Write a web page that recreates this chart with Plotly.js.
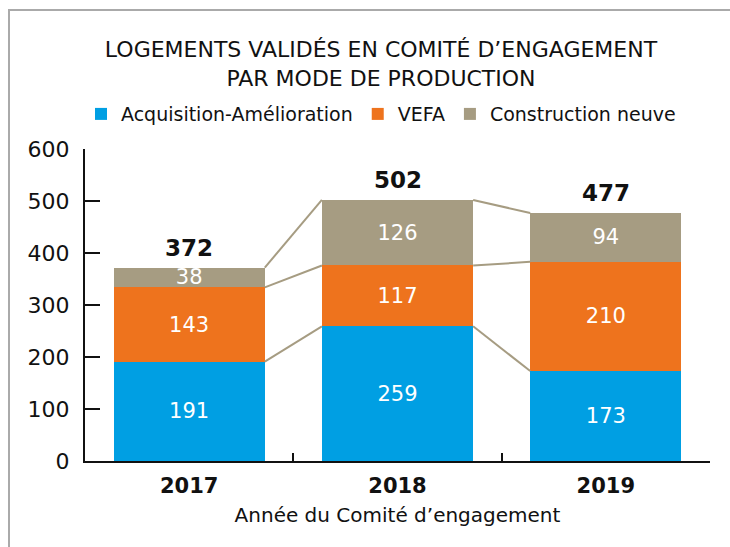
<!DOCTYPE html>
<html>
<head>
<meta charset="utf-8">
<script src="https://cdn.plot.ly/plotly-3.0.1.min.js"></script>
<style>
  html, body { margin: 0; padding: 0; background: #fff; }
  #wrap { position: relative; width: 730px; height: 547px; overflow: hidden; }
  #chart { position: absolute; left: 0; top: 0; width: 730px; height: 547px; }
  #frame { position: absolute; left: 8px; top: 9px; width: 740px; height: 560px;
           border-left: 2px solid #aaaaaa; border-top: 2px solid #aaaaaa; pointer-events: none; }
</style>
</head>
<body>
<div id="wrap">
  <div id="chart"></div>
  <div id="frame"></div>
</div>
<script>
// ---- data ----
const years = ["2017", "2018", "2019"];
const acquisition = [191, 259, 173];
const vefa = [143, 117, 210];
const construction = [38, 126, 94];
const seriesNames = ["Acquisition-Amélioration", "VEFA", "Construction neuve"];
const chartTitle = "LOGEMENTS VALIDÉS EN COMITÉ D’ENGAGEMENT<br>PAR MODE DE PRODUCTION";
const xTitle = "Année du Comité d’engagement";

// ---- styles ----
const colors = ["#009FE3", "#EE731D", "#A69C82"];
const connectorColor = "#A69C82";
const barWidth = 0.726;
const FONT = "DejaVu Sans, sans-serif";

const series = [acquisition, vefa, construction];
const totals = years.map((_, i) => acquisition[i] + vefa[i] + construction[i]);

const traces = series.map((vals, k) => ({
  type: "bar",
  x: years,
  y: vals,
  name: seriesNames[k],
  width: barWidth,
  marker: { color: colors[k], line: { width: 0 } },
  text: vals.map(String),
  textposition: "inside",
  insidetextanchor: "middle",
  constraintext: "none",
  textangle: 0,
  textfont: { color: "#ffffff", size: 21, family: FONT },
  hoverinfo: "skip"
}));

// cumulative levels for connectors
const levels = years.map((_, i) => {
  let c = 0;
  return series.map(s => (c += s[i]));
});
for (let k = 0; k < series.length; k++) {
  for (let i = 0; i < years.length - 1; i++) {
    traces.push({
      type: "scatter",
      mode: "lines",
      xaxis: "x2",
      x: [i + barWidth / 2, i + 1 - barWidth / 2],
      y: [levels[i][k], levels[i + 1][k]],
      line: { color: connectorColor, width: 2 },
      showlegend: false,
      hoverinfo: "skip"
    });
  }
}

// totals above each bar (positioned by category index on the overlay axis)
const annotations = years.map((yr, i) => ({
  x: i, y: totals[i], xref: "x2", yref: "y",
  text: "<b>" + totals[i] + "</b>",
  showarrow: false, yanchor: "bottom", yshift: 5,
  font: { family: FONT, size: 23, color: "#111" }
}));

const layout = {
  width: 730, height: 547,
  margin: { l: 85, r: 20, t: 149, b: 86, autoexpand: false },
  paper_bgcolor: "#ffffff", plot_bgcolor: "#ffffff",
  font: { family: FONT, color: "#111" },
  barmode: "stack",
  showlegend: true,
  hovermode: false,
  title: {
    text: chartTitle,
    font: { family: FONT, size: 22, color: "#111" },
    xref: "container", x: 381 / 730, xanchor: "center",
    yref: "container", y: 1 - 57 / 547, yanchor: "top"
  },
  legend: {
    orientation: "h",
    x: (381 - 85) / 625, xanchor: "center",
    y: 1.112, yanchor: "middle",
    font: { family: FONT, size: 19, color: "#111" },
    itemwidth: 30,
    traceorder: "normal"
  },
  xaxis: {
    type: "category",
    range: [-0.5, 2.5],
    automargin: false,
    showline: true, linecolor: "#111", linewidth: 2,
    ticks: "inside", tickson: "boundaries", ticklen: 8, tickwidth: 2, tickcolor: "#111",
    tickfont: { family: FONT, size: 21, color: "#111", weight: "bold" },
    tickangle: 0,
    ticklabelstandoff: 5,
    showgrid: false, zeroline: false,
    title: { text: xTitle, font: { family: FONT, size: 20, color: "#111" }, standoff: 11 }
  },
  xaxis2: {
    overlaying: "x", range: [-0.5, 2.5], visible: false, showgrid: false, zeroline: false
  },
  yaxis: {
    range: [0, 600],
    automargin: false,
    tickvals: [0, 100, 200, 300, 400, 500, 600],
    showline: true, linecolor: "#111", linewidth: 2,
    ticks: "inside", ticklen: 15, tickwidth: 2, tickcolor: "#111",
    tickfont: { family: FONT, size: 22, color: "#111" },
    ticklabelstandoff: 9,
    showgrid: false, zeroline: false
  },
  annotations: annotations
};

Plotly.newPlot("chart", traces, layout, { displayModeBar: false, staticPlot: true });
</script>
</body>
</html>
